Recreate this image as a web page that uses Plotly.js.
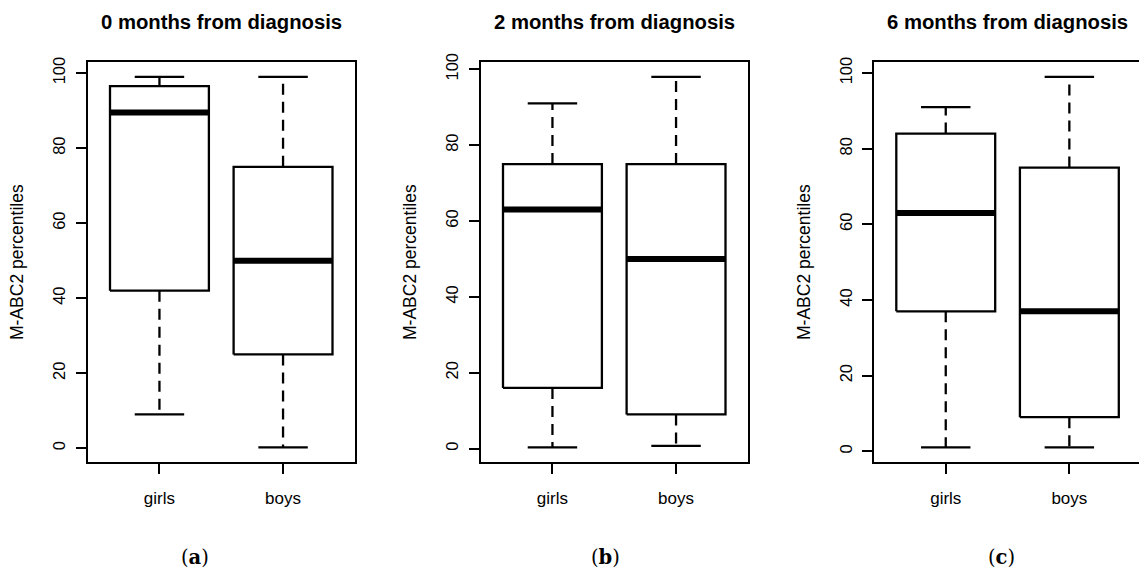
<!DOCTYPE html>
<html>
<head>
<meta charset="utf-8">
<script src="https://cdn.plot.ly/plotly-3.0.1.min.js"></script>
<style>
  html, body { margin: 0; padding: 0; background: #ffffff; }
  #chart { width: 1139px; height: 575px; }
</style>
</head>
<body>
<div id="chart"></div>
<script>
// ---- data ----
const categories = ['girls', 'boys'];
const panelTitles = ['0 months from diagnosis', '2 months from diagnosis', '6 months from diagnosis'];
const panelLetters = ['a', 'b', 'c'];
const yAxisTitle = 'M-ABC2 percentiles';
const yTickValues = [0, 20, 40, 60, 80, 100];

// 0 months: [girls, boys]
const m0Lower  = [9, 0.2];
const m0Q1     = [42, 25];
const m0Median = [89.5, 50];
const m0Q3     = [96.5, 75];
const m0Upper  = [99, 99];

// 2 months
const m2Lower  = [0.3, 0.7];
const m2Q1     = [16, 9];
const m2Median = [63, 50];
const m2Q3     = [75, 75];
const m2Upper  = [91, 98];

// 6 months
const m6Lower  = [1, 1];
const m6Q1     = [37, 9];
const m6Median = [63, 37];
const m6Q3     = [84, 75];
const m6Upper  = [91, 99];

const panels = [
  {lower: m0Lower, q1: m0Q1, med: m0Median, q3: m0Q3, upper: m0Upper},
  {lower: m2Lower, q1: m2Q1, med: m2Median, q3: m2Q3, upper: m2Upper},
  {lower: m6Lower, q1: m6Q1, med: m6Median, q3: m6Q3, upper: m6Upper}
];

// ---- layout geometry ----
const W = 1139, H = 575;
const plotTop = 62, plotBottom = 462.3;
const panelLeft = [88, 481, 874.3];
const panelWidth = 266.5;
const xLo = 0.422, xHi = 2.578;          // R-style 4% extension around 0.5..2.5
const pxPerUnit = panelWidth / (xHi - xLo);
const boxHalf = 0.4, capHalf = 0.2;
const captionX = [195, 605, 1001];
const fontSans = 'Liberation Sans, Arial, sans-serif';

const traces = [];
const layout = {
  width: W, height: H,
  margin: {l: 0, r: 0, t: 0, b: 0},
  paper_bgcolor: '#ffffff',
  plot_bgcolor: '#ffffff',
  showlegend: false,
  hovermode: false,
  annotations: []
};

const black = '#000000';
const lineW = 2.3;

panels.forEach((p, i) => {
  const suffix = i === 0 ? '' : String(i + 1);
  const xa = 'x' + suffix, ya = 'y' + suffix;
  const left = panelLeft[i];
  let right = left + panelWidth;
  let hi = xHi;
  if (right > W) { hi = xLo + (W - left) / pxPerUnit; right = W; }

  const yMin = Math.min(...p.lower), yMax = Math.max(...p.upper);
  const ext = (yMax - yMin) * 0.04;

  layout['xaxis' + suffix] = {
    domain: [left / W, right / W],
    anchor: ya,
    range: [xLo, hi],
    tickvals: [1, 2],
    ticktext: categories,
    ticks: 'outside', ticklen: 10, tickwidth: 2, tickcolor: black,
    ticklabelstandoff: 9,
    tickfont: {family: fontSans, size: 17, color: black},
    showline: true, mirror: true, linewidth: 2, linecolor: black,
    showgrid: false, zeroline: false, fixedrange: true
  };
  layout['yaxis' + suffix] = {
    domain: [1 - plotBottom / H, 1 - plotTop / H],
    anchor: xa,
    range: [yMin - ext, yMax + ext],
    tickvals: yTickValues,
    ticks: 'outside', ticklen: 10, tickwidth: 2, tickcolor: black,
    tickangle: -90,
    ticklabelstandoff: 4,
    tickfont: {family: fontSans, size: 16.5, color: black},
    showline: true, mirror: true, linewidth: 2, linecolor: black,
    showgrid: false, zeroline: false, fixedrange: true,
    title: {text: yAxisTitle, font: {family: fontSans, size: 17.5, color: black}, standoff: 22}
  };

  // panel title
  layout.annotations.push({
    text: panelTitles[i], xref: 'paper', yref: 'paper',
    x: (left + panelWidth / 2) / W, y: 1 - 22 / H,
    xanchor: 'center', yanchor: 'middle', showarrow: false,
    font: {family: fontSans, size: 20.3, color: black, weight: 'bold'}
  });
  // caption (a)/(b)/(c)
  layout.annotations.push({
    text: '(<b>' + panelLetters[i] + '</b>)', xref: 'paper', yref: 'paper',
    x: captionX[i] / W, y: 1 - 557 / H,
    xanchor: 'center', yanchor: 'middle', showarrow: false,
    font: {family: 'DejaVu Serif, Liberation Serif, serif', size: 19.5, color: black}
  });

  categories.forEach((cat, j) => {
    const c = j + 1;
    const common = {xaxis: xa, yaxis: ya, mode: 'lines', hoverinfo: 'skip', showlegend: false};
    // upper whisker (dashed) from Q3 to upper
    traces.push(Object.assign({}, common, {
      x: [c, c], y: [p.q3[j], p.upper[j]],
      line: {color: black, width: lineW, dash: '11px,7px'}
    }));
    // lower whisker (dashed) from Q1 to lower
    traces.push(Object.assign({}, common, {
      x: [c, c], y: [p.q1[j], p.lower[j]],
      line: {color: black, width: lineW, dash: '11px,7px'}
    }));
    // caps
    traces.push(Object.assign({}, common, {
      x: [c - capHalf, c + capHalf], y: [p.upper[j], p.upper[j]],
      line: {color: black, width: lineW}
    }));
    traces.push(Object.assign({}, common, {
      x: [c - capHalf, c + capHalf], y: [p.lower[j], p.lower[j]],
      line: {color: black, width: lineW}
    }));
    // box
    traces.push(Object.assign({}, common, {
      x: [c - boxHalf, c + boxHalf, c + boxHalf, c - boxHalf, c - boxHalf],
      y: [p.q1[j], p.q1[j], p.q3[j], p.q3[j], p.q1[j]],
      fill: 'toself', fillcolor: '#ffffff',
      line: {color: black, width: lineW}
    }));
    // median
    traces.push(Object.assign({}, common, {
      x: [c - boxHalf, c + boxHalf], y: [p.med[j], p.med[j]],
      line: {color: black, width: 6}
    }));
  });
});

Plotly.newPlot('chart', traces, layout, {displayModeBar: false, staticPlot: true});
</script>
</body>
</html>
